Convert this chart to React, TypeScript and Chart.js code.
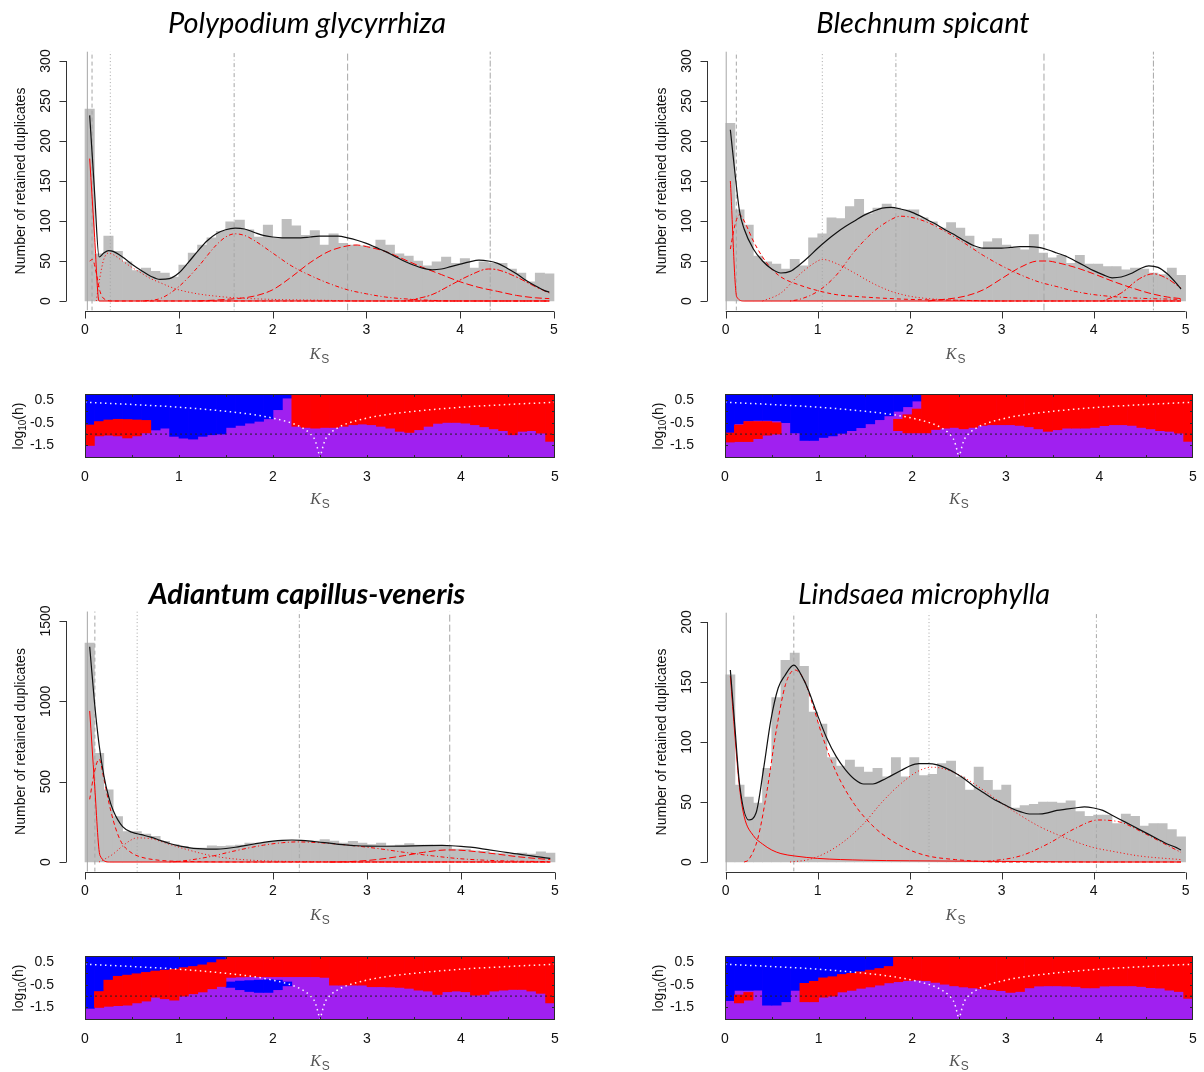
import React, { useEffect, useRef } from "react";
import { Chart, registerables } from "chart.js";

Chart.register(...registerables);

type Pt = [number, number];
const N = null;
const T = 0.76; // top of the log10(h) range in the SiZer maps

// ---------------- shared axes / categories ----------------
const binMids = [
  0.05, 0.15, 0.25, 0.35, 0.45, 0.55, 0.65, 0.75, 0.85, 0.95,
  1.05, 1.15, 1.25, 1.35, 1.45, 1.55, 1.65, 1.75, 1.85, 1.95,
  2.05, 2.15, 2.25, 2.35, 2.45, 2.55, 2.65, 2.75, 2.85, 2.95,
  3.05, 3.15, 3.25, 3.35, 3.45, 3.55, 3.65, 3.75, 3.85, 3.95,
  4.05, 4.15, 4.25, 4.35, 4.45, 4.55, 4.65, 4.75, 4.85, 4.95,
];
const xTickVals = [0, 1, 2, 3, 4, 5];
const sizerYTickVals = [0.5, -0.5, -1.5];
const sizerYTickLabels = ["0.5", "-0.5", "-1.5"];
const sizerMinorX = [0.5, 1, 1.5, 2, 2.5, 3, 3.5, 4, 4.5];
const sizerMinorY = [0.5, 0, -0.5, -1, -1.5, -2];
const sizerRefLevel = -1;
const sizerLeftK = [0, 0.5, 1, 1.5, 1.8, 2, 2.2, 2.3, 2.4, 2.45, 2.5];
const sizerLeftH = [0.4, 0.3, 0.18, 0, -0.15, -0.3, -0.52, -0.7, -1, -1.3, -2.05];
const sizerRightK = [2.5, 2.55, 2.6, 2.7, 2.8, 3, 3.2, 3.5, 4, 4.5, 5];
const sizerRightH = [-2.05, -1.3, -1, -0.7, -0.52, -0.3, -0.15, 0, 0.18, 0.3, 0.4];

// ---------------- Polypodium glycyrrhiza ----------------
const polyTitle = "Polypodium glycyrrhiza";
const polyYTicks = [0, 50, 100, 150, 200, 250, 300];
const polyCounts = [240, 59, 81, 62, 49, 38, 41, 37, 35, 30, 45, 60, 70, 79, 87, 99, 101, 89, 80, 95, 79, 102, 94, 82, 88, 70, 84, 72, 70, 69, 68, 76, 70, 59, 56, 50, 44, 49, 55, 47, 53, 41, 49, 47, 47, 40, 35, 24, 35, 34];
const polyTotal: Pt[] = [[0.05, 232], [0.1, 140], [0.15, 55], [0.2, 60], [0.25, 63], [0.3, 62], [0.4, 55], [0.5, 46], [0.6, 38], [0.7, 31], [0.8, 27], [0.9, 28], [1.0, 35], [1.1, 48], [1.2, 62], [1.3, 75], [1.4, 84], [1.5, 89], [1.6, 91], [1.7, 90], [1.8, 86], [1.9, 82], [2.0, 80], [2.1, 79], [2.2, 79], [2.3, 79], [2.4, 80], [2.5, 81], [2.6, 81], [2.7, 81], [2.8, 79], [2.9, 76], [3.0, 72], [3.1, 67], [3.2, 62], [3.3, 56], [3.4, 50], [3.5, 45], [3.6, 41], [3.7, 39], [3.8, 40], [3.9, 43], [4.0, 46], [4.1, 49], [4.2, 51], [4.3, 50], [4.4, 47], [4.5, 41], [4.6, 34], [4.7, 26], [4.8, 19], [4.9, 13], [4.95, 11]];
const polyComp1: Pt[] = [[0.05, 178], [0.1, 85], [0.15, 0], [4.95, 0]];
const polyComp2: Pt[] = [[0.05, 50], [0.08, 52], [0.12, 35], [0.16, 12], [0.2, 3], [0.3, 0], [4.95, 0]];
const polyComp3: Pt[] = [[0.12, 0], [0.16, 30], [0.2, 52], [0.25, 60], [0.3, 58], [0.4, 50], [0.5, 42], [0.6, 35], [0.7, 28], [0.8, 23], [0.9, 18], [1.0, 14], [1.2, 9], [1.4, 6], [1.6, 4], [2.0, 2], [2.5, 1], [3.0, 0], [4.95, 0]];
const polyComp4: Pt[] = [[0.6, 0], [0.8, 3], [1.0, 18], [1.2, 42], [1.4, 70], [1.5, 80], [1.6, 84], [1.7, 82], [1.8, 76], [2.0, 60], [2.2, 44], [2.4, 32], [2.6, 22], [2.8, 14], [3.0, 9], [3.2, 5], [3.5, 2], [4.0, 0], [4.95, 0]];
const polyComp5: Pt[] = [[1.2, 0], [1.5, 2], [1.8, 6], [2.0, 14], [2.2, 30], [2.4, 48], [2.6, 62], [2.8, 69], [2.9, 70], [3.0, 68], [3.2, 62], [3.4, 52], [3.6, 42], [3.8, 33], [4.0, 24], [4.2, 17], [4.4, 12], [4.6, 7], [4.8, 4], [4.95, 3]];
const polyComp6: Pt[] = [[3.4, 0], [3.5, 2], [3.7, 8], [3.9, 20], [4.1, 32], [4.3, 40], [4.4, 39], [4.6, 30], [4.8, 18], [4.95, 10]];
const polyModes = [0.025, 0.075, 0.27, 1.59, 2.8, 4.32];
const polyRedLo = [-1.5, -1.08, -1.05, -1.08, -1.17, -1.08, -0.95, N, N, N, N, N, N, N, N, N, N, N, N, N, N, N, -0.66, -0.71, -0.74, -0.71, -0.71, -0.66, -0.59, -0.56, -0.59, -0.66, -0.74, -0.88, -0.93, -0.81, -0.66, -0.53, -0.49, -0.49, -0.52, -0.59, -0.68, -0.77, -0.85, -1.03, -0.88, -0.85, -0.96, -1.32];
const polyRedHi = [-0.6, -0.45, -0.38, -0.35, -0.36, -0.38, -0.4, N, N, N, N, N, N, N, N, N, N, N, N, N, N, N, T, T, T, T, T, T, T, T, T, T, T, T, T, T, T, T, T, T, T, T, T, T, T, T, T, T, T, T];
const polyBlueLo = [-0.6, -0.45, -0.38, -0.35, -0.36, -0.38, -0.4, -0.82, -0.74, -1.1, -1.18, -1.22, -1.1, -1.03, -1.0, -0.71, -0.62, -0.52, -0.44, -0.33, 0.07, 0.58, N, N, N, N, N, N, N, N, N, N, N, N, N, N, N, N, N, N, N, N, N, N, N, N, N, N, N, N];
const polyBlueHi = [T, T, T, T, T, T, T, T, T, T, T, T, T, T, T, T, T, T, T, T, T, T, N, N, N, N, N, N, N, N, N, N, N, N, N, N, N, N, N, N, N, N, N, N, N, N, N, N, N, N];

// ---------------- Blechnum spicant ----------------
const blechTitle = "Blechnum spicant";
const blechYTicks = [0, 50, 100, 150, 200, 250, 300];
const blechCounts = [222, 114, 95, 56, 49, 46, 40, 52, 44, 79, 84, 104, 103, 118, 127, 109, 116, 121, 116, 114, 114, 104, 99, 91, 98, 91, 81, 66, 74, 78, 70, 66, 64, 83, 60, 54, 57, 47, 57, 46, 46, 43, 43, 39, 41, 40, 35, 33, 41, 32];
const blechTotal: Pt[] = [[0.05, 214], [0.1, 160], [0.15, 112], [0.2, 90], [0.3, 65], [0.4, 50], [0.5, 40], [0.6, 35], [0.7, 37], [0.8, 45], [0.9, 55], [1.0, 66], [1.1, 76], [1.2, 85], [1.3, 93], [1.4, 100], [1.5, 107], [1.6, 112], [1.7, 116], [1.8, 117], [1.9, 115], [2.0, 112], [2.1, 107], [2.2, 101], [2.3, 95], [2.4, 88], [2.5, 82], [2.6, 75], [2.7, 69], [2.8, 66], [2.9, 66], [3.0, 66], [3.1, 67], [3.2, 68], [3.3, 68], [3.4, 67], [3.5, 64], [3.6, 60], [3.7, 56], [3.8, 50], [3.9, 44], [4.0, 38], [4.1, 33], [4.2, 29], [4.3, 30], [4.4, 34], [4.5, 40], [4.6, 44], [4.7, 42], [4.8, 34], [4.9, 22], [4.95, 15]];
const blechComp1: Pt[] = [[0.05, 150], [0.12, 5], [0.2, 0], [4.95, 0]];
const blechComp2: Pt[] = [[0.05, 65], [0.1, 95], [0.15, 108], [0.2, 100], [0.3, 75], [0.4, 55], [0.5, 40], [0.6, 30], [0.8, 20], [1.0, 13], [1.2, 8], [1.5, 5], [2.0, 2], [2.5, 1], [3.0, 0], [4.95, 0]];
const blechComp3: Pt[] = [[0.4, 0], [0.6, 10], [0.8, 33], [1.0, 50], [1.05, 52], [1.2, 47], [1.4, 35], [1.6, 22], [1.8, 12], [2.0, 6], [2.2, 3], [2.5, 1], [3.0, 0], [4.95, 0]];
const blechComp4: Pt[] = [[0.7, 0], [0.8, 2], [1.0, 12], [1.2, 32], [1.4, 62], [1.6, 86], [1.8, 102], [1.9, 106], [2.0, 105], [2.2, 98], [2.4, 86], [2.6, 72], [2.8, 57], [3.0, 44], [3.2, 33], [3.4, 24], [3.6, 18], [3.8, 12], [4.0, 8], [4.4, 4], [4.95, 2]];
const blechComp5: Pt[] = [[2.2, 0], [2.6, 6], [2.8, 14], [3.0, 28], [3.2, 42], [3.4, 50], [3.5, 50], [3.6, 48], [3.8, 42], [4.0, 34], [4.2, 25], [4.4, 17], [4.6, 10], [4.8, 5], [4.95, 3]];
const blechComp6: Pt[] = [[4.1, 0], [4.3, 10], [4.5, 28], [4.65, 34], [4.8, 28], [4.95, 16]];
const blechModes = [0.005, 0.115, 1.05, 1.85, 3.46, 4.65];
const blechRedLo = [-1.35, -1.33, -1.33, -1.2, -1.05, -1.0, N, N, N, N, N, N, N, N, N, N, N, N, -0.85, -0.95, -0.95, -0.95, -0.8, -0.74, -0.71, -0.77, -0.71, -0.62, -0.59, -0.59, -0.59, -0.62, -0.68, -0.77, -0.88, -0.81, -0.74, -0.74, -0.74, -0.71, -0.63, -0.59, -0.59, -0.62, -0.71, -0.77, -0.85, -0.88, -0.96, -1.32];
const blechRedHi = [-0.95, -0.6, -0.45, -0.45, -0.45, -0.5, N, N, N, N, N, N, N, N, N, N, N, N, -0.35, -0.15, 0.1, T, T, T, T, T, T, T, T, T, T, T, T, T, T, T, T, T, T, T, T, T, T, T, T, T, T, T, T, T];
const blechBlueLo = [-0.95, -0.55, -0.42, -0.4, -0.4, -0.42, -0.5, -0.95, -1.28, -1.28, -1.15, -1.08, -0.97, -0.85, -0.72, -0.55, -0.37, -0.2, 0.0, 0.2, 0.45, N, N, N, N, N, N, N, N, N, N, N, N, N, N, N, N, N, N, N, N, N, N, N, N, N, N, N, N, N];
const blechBlueHi = [T, T, T, T, T, T, T, T, T, T, T, T, T, T, T, T, T, T, T, T, T, N, N, N, N, N, N, N, N, N, N, N, N, N, N, N, N, N, N, N, N, N, N, N, N, N, N, N, N, N];

// ---------------- Adiantum capillus-veneris ----------------
const adiTitle = "Adiantum capillus-veneris";
const adiYTicks = [0, 500, 1000, 1500];
const adiCounts = [1363, 677, 449, 283, 190, 190, 174, 159, 128, 108, 97, 87, 87, 101, 97, 101, 106, 118, 114, 122, 128, 134, 134, 128, 130, 139, 130, 118, 128, 118, 108, 118, 101, 106, 114, 106, 106, 97, 101, 81, 81, 70, 66, 56, 52, 46, 56, 50, 64, 56];
const adiTotal: Pt[] = [[0.05, 1340], [0.1, 1000], [0.15, 730], [0.2, 540], [0.25, 410], [0.3, 320], [0.4, 220], [0.5, 185], [0.6, 170], [0.7, 155], [0.8, 135], [0.9, 115], [1.0, 100], [1.1, 90], [1.2, 83], [1.3, 80], [1.4, 80], [1.5, 84], [1.6, 92], [1.7, 102], [1.8, 112], [1.9, 122], [2.0, 130], [2.1, 135], [2.2, 137], [2.3, 135], [2.4, 130], [2.5, 123], [2.6, 117], [2.7, 110], [2.8, 105], [2.9, 101], [3.0, 99], [3.2, 98], [3.4, 99], [3.6, 102], [3.8, 103], [3.9, 101], [4.0, 97], [4.1, 92], [4.2, 85], [4.3, 76], [4.4, 67], [4.5, 58], [4.6, 50], [4.7, 42], [4.8, 34], [4.9, 26], [4.95, 22]];
const adiComp1: Pt[] = [[0.05, 940], [0.1, 500], [0.16, 40], [0.26, 0], [4.95, 0]];
const adiComp2: Pt[] = [[0.05, 390], [0.1, 560], [0.15, 640], [0.2, 520], [0.25, 380], [0.3, 260], [0.35, 170], [0.4, 110], [0.5, 55], [0.6, 30], [0.8, 10], [1.0, 4], [1.3, 1], [1.6, 0], [4.95, 0]];
const adiComp3: Pt[] = [[0.15, 0], [0.2, 15], [0.3, 50], [0.4, 100], [0.5, 140], [0.55, 150], [0.7, 145], [0.9, 110], [1.1, 75], [1.3, 45], [1.5, 25], [1.8, 10], [2.2, 3], [2.6, 1], [3.0, 0], [4.95, 0]];
const adiComp4: Pt[] = [[0.9, 0], [1.0, 4], [1.3, 30], [1.6, 70], [1.9, 105], [2.1, 120], [2.25, 125], [2.5, 120], [2.8, 105], [3.1, 85], [3.4, 60], [3.7, 38], [4.0, 20], [4.4, 8], [4.95, 2]];
const adiComp5: Pt[] = [[2.6, 0], [2.8, 2], [3.1, 15], [3.4, 40], [3.6, 60], [3.85, 75], [4.0, 73], [4.2, 62], [4.4, 48], [4.6, 33], [4.8, 22], [4.95, 15]];
const adiModes = [0.025, 0.105, 0.555, 2.28, 3.88];
const adiRedLo = [N, -1.5, -1.45, -1.42, -1.4, -1.3, -1.22, -1.05, -1.12, -1.18, -1.0, -0.9, -0.82, -0.68, -0.58, -0.18, -0.16, -0.15, -0.15, -0.15, -0.15, -0.15, -0.15, -0.15, -0.15, -0.18, -0.52, -0.52, -0.52, -0.52, -0.59, -0.59, -0.6, -0.62, -0.66, -0.74, -0.78, -0.93, -0.81, -0.78, -0.81, -0.96, -0.93, -0.78, -0.74, -0.71, -0.71, -0.78, -0.88, -1.3];
const adiRedHi = [N, -0.8, -0.3, -0.13, -0.08, -0.02, 0.04, 0.1, 0.14, 0.18, 0.25, 0.3, 0.37, 0.47, 0.6, T, T, T, T, T, T, T, T, T, T, T, T, T, T, T, T, T, T, T, T, T, T, T, T, T, T, T, T, T, T, T, T, T, T, T];
const adiBlueLo = [-1.54, -0.8, -0.3, -0.13, -0.08, -0.02, 0.04, 0.1, 0.14, 0.18, 0.25, 0.3, 0.37, 0.47, 0.6, -0.62, -0.72, -0.8, -0.84, -0.84, -0.72, -0.55, N, N, N, N, N, N, N, N, N, N, N, N, N, N, N, N, N, N, N, N, N, N, N, N, N, N, N, N];
const adiBlueHi = [T, T, T, T, T, T, T, T, T, T, T, T, T, T, T, -0.38, -0.34, -0.32, -0.3, -0.28, -0.3, -0.38, N, N, N, N, N, N, N, N, N, N, N, N, N, N, N, N, N, N, N, N, N, N, N, N, N, N, N, N];

// ---------------- Lindsaea microphylla ----------------
const lindTitle = "Lindsaea microphylla";
const lindYTicks = [0, 50, 100, 150, 200];
const lindCounts = [156, 64, 54, 49, 78, 137, 168, 174, 163, 125, 115, 87, 80, 85, 79, 75, 78, 71, 87, 71, 87, 72, 73, 82, 84, 71, 60, 79, 68, 60, 64, 45, 47, 48, 50, 50, 49, 51, 42, 38, 39, 39, 32, 40, 38, 30, 32, 32, 27, 21];
const lindTotal: Pt[] = [[0.05, 160], [0.1, 112], [0.15, 65], [0.25, 35], [0.33, 41], [0.41, 77], [0.49, 118], [0.57, 145], [0.64, 155], [0.74, 164], [0.84, 153], [0.9, 143], [1.0, 122], [1.1, 103], [1.2, 88], [1.3, 77], [1.4, 69], [1.5, 65], [1.6, 65], [1.7, 68], [1.8, 72], [1.9, 76], [2.0, 80], [2.1, 82], [2.2, 82], [2.3, 81], [2.4, 78], [2.5, 74], [2.6, 69], [2.7, 63], [2.8, 58], [2.9, 53], [3.0, 49], [3.1, 45], [3.2, 42], [3.3, 40], [3.4, 40], [3.5, 41], [3.6, 43], [3.7, 44], [3.8, 45], [3.9, 46], [4.0, 45], [4.1, 43], [4.2, 39], [4.3, 35], [4.4, 31], [4.5, 27], [4.6, 23], [4.7, 19], [4.8, 15], [4.9, 12], [4.95, 10]];
const lindComp1: Pt[] = [[0.05, 155], [0.1, 105], [0.15, 62], [0.2, 38], [0.3, 22], [0.4, 15], [0.5, 10], [0.6, 7], [0.75, 5], [1.0, 3], [1.5, 1.5], [2.0, 1], [3.0, 0.5], [4.0, 0], [4.95, 0]];
const lindComp2: Pt[] = [[0.2, 0], [0.25, 2], [0.35, 20], [0.45, 60], [0.55, 110], [0.65, 148], [0.75, 160], [0.85, 152], [0.95, 130], [1.05, 105], [1.2, 75], [1.4, 48], [1.6, 30], [1.8, 18], [2.0, 10], [2.2, 5], [2.5, 2], [3.0, 0], [4.95, 0]];
const lindComp3: Pt[] = [[0.7, 0], [0.9, 2], [1.1, 8], [1.3, 18], [1.5, 32], [1.7, 50], [1.9, 65], [2.1, 76], [2.25, 79], [2.4, 77], [2.6, 70], [2.8, 60], [3.0, 49], [3.2, 39], [3.4, 30], [3.6, 23], [3.8, 17], [4.0, 12], [4.2, 9], [4.5, 5], [4.95, 2]];
const lindComp4: Pt[] = [[2.8, 0], [3.2, 5], [3.5, 15], [3.8, 28], [4.05, 35], [4.3, 33], [4.5, 26], [4.7, 18], [4.95, 8]];
const lindModes = [0.005, 0.74, 2.21, 4.03];
const lindRedLo = [N, -1.3, -1.18, N, N, N, N, N, -1.25, -1.25, -1.05, -1.0, -0.82, -0.75, -0.66, -0.6, -0.52, -0.42, -0.37, -0.32, -0.3, -0.32, -0.4, -0.48, -0.55, -0.6, -0.64, -0.68, -0.72, -0.76, -0.84, -0.8, -0.64, -0.56, -0.55, -0.55, -0.56, -0.58, -0.64, -0.64, -0.56, -0.55, -0.55, -0.55, -0.58, -0.63, -0.65, -0.74, -0.8, -1.1];
const lindRedHi = [N, -0.95, -0.84, N, N, N, N, N, -0.44, -0.35, -0.2, -0.15, -0.05, 0.0, 0.07, 0.14, 0.21, 0.3, T, T, T, T, T, T, T, T, T, T, T, T, T, T, T, T, T, T, T, T, T, T, T, T, T, T, T, T, T, T, T, T];
const lindBlueLo = [-1.2, -0.75, -0.75, -0.74, -1.4, -1.4, -1.25, -0.75, -0.44, -0.35, -0.2, -0.15, -0.05, 0.0, 0.07, 0.14, 0.21, 0.3, N, N, N, N, N, N, N, N, N, N, N, N, N, N, N, N, N, N, N, N, N, N, N, N, N, N, N, N, N, N, N, N];
const lindBlueHi = [T, T, T, T, T, T, T, T, T, T, T, T, T, T, T, T, T, T, N, N, N, N, N, N, N, N, N, N, N, N, N, N, N, N, N, N, N, N, N, N, N, N, N, N, N, N, N, N, N, N];

// ---------------- styles ----------------
const LTY: number[][] = [[], [4, 3], [1, 2.5], [1, 2.5, 4, 2.5], [7, 3], [2, 2, 6, 2]];
const BAR_GREY = "#BEBEBE";
const MODE_GREY = "#A6A6A6";
const RED = "#FF0000";
const BLUE = "#0000FF";
const PURPLE = "#A020F0";
const FONT = '"Liberation Sans", Arial, sans-serif';

type PanelCfg = {
  title: string; bold: boolean; yMax: number; yTicks: number[]; counts: number[]; total: Pt[];
  comps: Pt[][]; modes: number[]; redLo: (number | null)[]; redHi: (number | null)[];
  blueLo: (number | null)[]; blueHi: (number | null)[];
};

const panels: PanelCfg[] = [
  { title: polyTitle, bold: false, yMax: 300, yTicks: polyYTicks, counts: polyCounts, total: polyTotal, comps: [polyComp1, polyComp2, polyComp3, polyComp4, polyComp5, polyComp6], modes: polyModes, redLo: polyRedLo, redHi: polyRedHi, blueLo: polyBlueLo, blueHi: polyBlueHi },
  { title: blechTitle, bold: false, yMax: 300, yTicks: blechYTicks, counts: blechCounts, total: blechTotal, comps: [blechComp1, blechComp2, blechComp3, blechComp4, blechComp5, blechComp6], modes: blechModes, redLo: blechRedLo, redHi: blechRedHi, blueLo: blechBlueLo, blueHi: blechBlueHi },
  { title: adiTitle, bold: true, yMax: 1500, yTicks: adiYTicks, counts: adiCounts, total: adiTotal, comps: [adiComp1, adiComp2, adiComp3, adiComp4, adiComp5], modes: adiModes, redLo: adiRedLo, redHi: adiRedHi, blueLo: adiBlueLo, blueHi: adiBlueHi },
  { title: lindTitle, bold: false, yMax: 200, yTicks: lindYTicks, counts: lindCounts, total: lindTotal, comps: [lindComp1, lindComp2, lindComp3, lindComp4], modes: lindModes, redLo: lindRedLo, redHi: lindRedHi, blueLo: lindBlueLo, blueHi: lindBlueHi },
];

// layout (page pixel geometry)
type Box = { left: number; top: number; width: number; height: number };
const GEO = [
  { title: { cx: 307, cy: 22 }, main: { box: { left: 0, top: 38, width: 602, height: 340 }, x0: 85, x5: 554, y0: 301, yTop: 61 }, sizer: { box: { left: 0, top: 382, width: 602, height: 130 }, x0: 85, x5: 555, top: 394, bottom: 458 } },
  { title: { cx: 923, cy: 22 }, main: { box: { left: 602, top: 38, width: 602, height: 340 }, x0: 726, x5: 1192, y0: 301, yTop: 61 }, sizer: { box: { left: 602, top: 382, width: 602, height: 130 }, x0: 725, x5: 1193, top: 394, bottom: 458 } },
  { title: { cx: 307, cy: 593 }, main: { box: { left: 0, top: 598, width: 602, height: 345 }, x0: 85, x5: 555, y0: 862, yTop: 621 }, sizer: { box: { left: 0, top: 945, width: 602, height: 127 }, x0: 85, x5: 555, top: 956, bottom: 1020 } },
  { title: { cx: 924, cy: 593 }, main: { box: { left: 602, top: 598, width: 602, height: 345 }, x0: 726, x5: 1192, y0: 862, yTop: 622 }, sizer: { box: { left: 602, top: 945, width: 602, height: 127 }, x0: 725, x5: 1193, top: 956, bottom: 1020 } },
];

function drawKs(ctx: CanvasRenderingContext2D, cx: number, cy: number) {
  ctx.save();
  ctx.fillStyle = "#555";
  ctx.textAlign = "left";
  ctx.textBaseline = "alphabetic";
  const fK = 'italic 16px "Liberation Serif", serif';
  const fS = '12px "Liberation Sans", sans-serif';
  ctx.font = fK;
  const wK = ctx.measureText("K").width;
  ctx.font = fS;
  const wS = ctx.measureText("S").width;
  const x0 = cx - (wK + wS + 1) / 2;
  ctx.font = fK;
  ctx.fillText("K", x0, cy + 5);
  ctx.font = fS;
  ctx.fillText("S", x0 + wK + 1, cy + 9);
  ctx.restore();
}

function makeMainAxes(yTicks: number[]) {
  return {
    id: "rMainAxes",
    afterDraw(chart: any) {
      const { ctx, chartArea: ca, scales } = chart;
      const xs = scales.x, ys = scales.y;
      ctx.save();
      ctx.strokeStyle = "#333";
      ctx.lineWidth = 1;
      ctx.fillStyle = "#111";
      const yb = Math.round(ca.bottom) + 0.5;
      ctx.beginPath();
      ctx.moveTo(xs.getPixelForValue(xTickVals[0]), yb);
      ctx.lineTo(xs.getPixelForValue(xTickVals[xTickVals.length - 1]), yb);
      xTickVals.forEach((t) => {
        const px = Math.round(xs.getPixelForValue(t)) + 0.5;
        ctx.moveTo(px, yb);
        ctx.lineTo(px, yb + 7);
      });
      const xl = Math.round(ca.left) + 0.5;
      ctx.moveTo(xl, ys.getPixelForValue(yTicks[0]));
      ctx.lineTo(xl, ys.getPixelForValue(yTicks[yTicks.length - 1]));
      yTicks.forEach((t) => {
        const py = Math.round(ys.getPixelForValue(t)) + 0.5;
        ctx.moveTo(xl, py);
        ctx.lineTo(xl - 7, py);
      });
      ctx.stroke();
      ctx.font = "14px " + FONT;
      ctx.textAlign = "center";
      ctx.textBaseline = "middle";
      xTickVals.forEach((t) => ctx.fillText(String(t), xs.getPixelForValue(t), ca.bottom + 20));
      yTicks.forEach((t) => {
        ctx.save();
        ctx.translate(ca.left - 20, ys.getPixelForValue(t));
        ctx.rotate(-Math.PI / 2);
        ctx.fillText(String(t), 0, 0);
        ctx.restore();
      });
      ctx.save();
      ctx.translate(ca.left - 45, (ca.top + ca.bottom) / 2);
      ctx.rotate(-Math.PI / 2);
      ctx.fillText("Number of retained duplicates", 0, 0);
      ctx.restore();
      drawKs(ctx, (ca.left + ca.right) / 2, ca.bottom + 43);
      ctx.restore();
    },
  };
}

function makeSizerDecor() {
  return {
    id: "sizerDecor",
    beforeDatasetsDraw(chart: any) {
      const { ctx, chartArea: ca } = chart;
      ctx.save();
      ctx.fillStyle = PURPLE;
      ctx.fillRect(ca.left, ca.top, ca.right - ca.left, ca.bottom - ca.top);
      ctx.restore();
    },
    afterDraw(chart: any) {
      const { ctx, chartArea: ca, scales } = chart;
      const xs = scales.x, ys = scales.y;
      ctx.save();
      ctx.strokeStyle = "#2a2a2a";
      ctx.lineWidth = 1;
      ctx.strokeRect(Math.round(ca.left) + 0.5, Math.round(ca.top) + 0.5, Math.round(ca.right - ca.left) - 1, Math.round(ca.bottom - ca.top) - 1);
      ctx.beginPath();
      sizerMinorX.forEach((k) => {
        const px = Math.round(xs.getPixelForValue(k)) + 0.5;
        ctx.moveTo(px, ca.top);
        ctx.lineTo(px, ca.top + 3);
        ctx.moveTo(px, ca.bottom);
        ctx.lineTo(px, ca.bottom - 3);
      });
      sizerMinorY.forEach((v) => {
        const py = Math.round(ys.getPixelForValue(v)) + 0.5;
        ctx.moveTo(ca.left, py);
        ctx.lineTo(ca.left + 3, py);
        ctx.moveTo(ca.right, py);
        ctx.lineTo(ca.right - 3, py);
      });
      ctx.stroke();
      ctx.fillStyle = "#111";
      ctx.font = "14px " + FONT;
      ctx.textAlign = "center";
      ctx.textBaseline = "middle";
      xTickVals.forEach((t) => ctx.fillText(String(t), xs.getPixelForValue(t), ca.bottom + 19));
      ctx.textAlign = "right";
      sizerYTickVals.forEach((v, i) => ctx.fillText(sizerYTickLabels[i], ca.left - 31, ys.getPixelForValue(v)));
      // log10(h) title
      ctx.save();
      ctx.translate(ca.left - 67, (ca.top + ca.bottom) / 2);
      ctx.rotate(-Math.PI / 2);
      ctx.textAlign = "left";
      ctx.textBaseline = "alphabetic";
      const f1 = "14px " + FONT, f2 = "10px " + FONT;
      ctx.font = f1;
      const w1 = ctx.measureText("log").width, w3 = ctx.measureText("(h)").width;
      ctx.font = f2;
      const w2 = ctx.measureText("10").width;
      let x = -(w1 + w2 + w3) / 2;
      ctx.font = f1;
      ctx.fillText("log", x, 5);
      x += w1;
      ctx.font = f2;
      ctx.fillText("10", x, 8);
      x += w2;
      ctx.font = f1;
      ctx.fillText("(h)", x, 5);
      ctx.restore();
      drawKs(ctx, (ca.left + ca.right) / 2, ca.bottom + 41);
      ctx.restore();
    },
  };
}

function MainPlot({ cfg, geo }: { cfg: PanelCfg; geo: any }) {
  const ref = useRef<HTMLCanvasElement>(null);
  const box: Box = geo.box;
  useEffect(() => {
    const ppu = (geo.x5 - geo.x0) / 5;
    const ppv = (geo.y0 - geo.yTop) / cfg.yMax;
    const yLo = -0.04 * cfg.yMax, yHi = 1.04 * cfg.yMax;
    const padding = {
      left: geo.x0 - 0.2 * ppu - box.left,
      right: box.left + box.width - (geo.x5 + 0.2 * ppu),
      top: geo.yTop - 0.04 * cfg.yMax * ppv - box.top,
      bottom: box.top + box.height - (geo.y0 + 0.04 * cfg.yMax * ppv),
    };
    const datasets: any[] = [];
    datasets.push({
      type: "bar", data: binMids.map((x, i) => ({ x, y: cfg.counts[i] })), backgroundColor: BAR_GREY,
      borderWidth: 0, barPercentage: 1, categoryPercentage: 1, order: 10,
    });
    cfg.modes.forEach((m, i) => datasets.push({
      type: "line", data: [{ x: m, y: yLo }, { x: m, y: yHi }], borderColor: MODE_GREY, borderWidth: 1,
      borderDash: LTY[i % LTY.length], pointRadius: 0, order: 5,
    }));
    cfg.comps.forEach((c, i) => datasets.push({
      type: "line", data: c.map(([x, y]) => ({ x, y })), borderColor: RED, borderWidth: 1,
      borderDash: LTY[i % LTY.length], pointRadius: 0, cubicInterpolationMode: "monotone", order: 2,
    }));
    datasets.push({
      type: "line", data: cfg.total.map(([x, y]) => ({ x, y })), borderColor: "#111", borderWidth: 1.2,
      pointRadius: 0, cubicInterpolationMode: "monotone", order: 1,
    });
    const chart = new Chart(ref.current as HTMLCanvasElement, {
      type: "bar",
      data: { datasets },
      options: {
        animation: false, responsive: false, maintainAspectRatio: false, devicePixelRatio: 1, events: [],
        layout: { padding },
        scales: {
          x: { type: "linear", min: -0.2, max: 5.2, display: false, offset: false },
          y: { type: "linear", min: yLo, max: yHi, display: false },
        },
        plugins: { legend: { display: false }, tooltip: { enabled: false }, title: { display: false } },
      } as any,
      plugins: [makeMainAxes(cfg.yTicks)],
    });
    return () => chart.destroy();
  }, []);
  return <canvas ref={ref} width={box.width} height={box.height} style={{ position: "absolute", left: box.left, top: box.top, width: box.width, height: box.height }} />;
}

function segs(lo: (number | null)[], hi: (number | null)[]) {
  const out: any[] = [];
  binMids.forEach((x, i) => {
    const a = lo[i], b = hi[i];
    if (a !== null && b !== null && a !== undefined && b !== undefined) out.push({ x, y: [a, b] });
  });
  return out;
}

function SizerPlot({ cfg, geo }: { cfg: PanelCfg; geo: any }) {
  const ref = useRef<HTMLCanvasElement>(null);
  const box: Box = geo.box;
  useEffect(() => {
    const padding = {
      left: geo.x0 - box.left,
      right: box.left + box.width - geo.x5,
      top: geo.top - box.top,
      bottom: box.top + box.height - geo.bottom,
    };
    const datasets: any[] = [
      { type: "bar", data: segs(cfg.redLo, cfg.redHi), backgroundColor: RED, borderWidth: 0, barPercentage: 1, categoryPercentage: 1, grouped: false, order: 10 },
      { type: "bar", data: segs(cfg.blueLo, cfg.blueHi), backgroundColor: BLUE, borderWidth: 0, barPercentage: 1, categoryPercentage: 1, grouped: false, order: 10 },
      { type: "line", data: [{ x: 0, y: sizerRefLevel }, { x: 5, y: sizerRefLevel }], borderColor: "#222", borderWidth: 1, borderDash: [2, 3], pointRadius: 0, order: 1 },
      { type: "line", data: sizerLeftK.map((k, i) => ({ x: k, y: sizerLeftH[i] })), borderColor: "rgba(255,255,255,0.95)", borderWidth: 1.5, borderDash: [1.5, 3.5], pointRadius: 0, cubicInterpolationMode: "monotone", order: 0 },
      { type: "line", data: sizerRightK.map((k, i) => ({ x: k, y: sizerRightH[i] })), borderColor: "rgba(255,255,255,0.95)", borderWidth: 1.5, borderDash: [1.5, 3.5], pointRadius: 0, cubicInterpolationMode: "monotone", order: 0 },
    ];
    const chart = new Chart(ref.current as HTMLCanvasElement, {
      type: "bar",
      data: { datasets },
      options: {
        animation: false, responsive: false, maintainAspectRatio: false, devicePixelRatio: 1, events: [],
        layout: { padding },
        scales: {
          x: { type: "linear", min: 0, max: 5, display: false, offset: false },
          y: { type: "linear", min: -2.05, max: T, display: false },
        },
        plugins: { legend: { display: false }, tooltip: { enabled: false } },
      } as any,
      plugins: [makeSizerDecor()],
    });
    return () => chart.destroy();
  }, []);
  return <canvas ref={ref} width={box.width} height={box.height} style={{ position: "absolute", left: box.left, top: box.top, width: box.width, height: box.height }} />;
}

export default function App() {
  return (
    <div style={{ position: "absolute", left: 0, top: 0, width: 1204, height: 1072, background: "#fff", overflow: "hidden" }}>
      {panels.map((p, i) => {
        const g = GEO[i];
        return (
          <React.Fragment key={i}>
            <MainPlot cfg={p} geo={g.main} />
            <SizerPlot cfg={p} geo={g.sizer} />
            <div style={{
              position: "absolute", left: g.title.cx - 300, top: g.title.cy - 20, width: 600, height: 40,
              lineHeight: "40px", textAlign: "center", fontFamily: "Lato, 'Open Sans', sans-serif",
              fontStyle: "italic", fontWeight: p.bold ? 700 : 400, fontSize: 29, color: "#000", whiteSpace: "nowrap",
              pointerEvents: "none",
            }}>{p.title}</div>
          </React.Fragment>
        );
      })}
    </div>
  );
}
